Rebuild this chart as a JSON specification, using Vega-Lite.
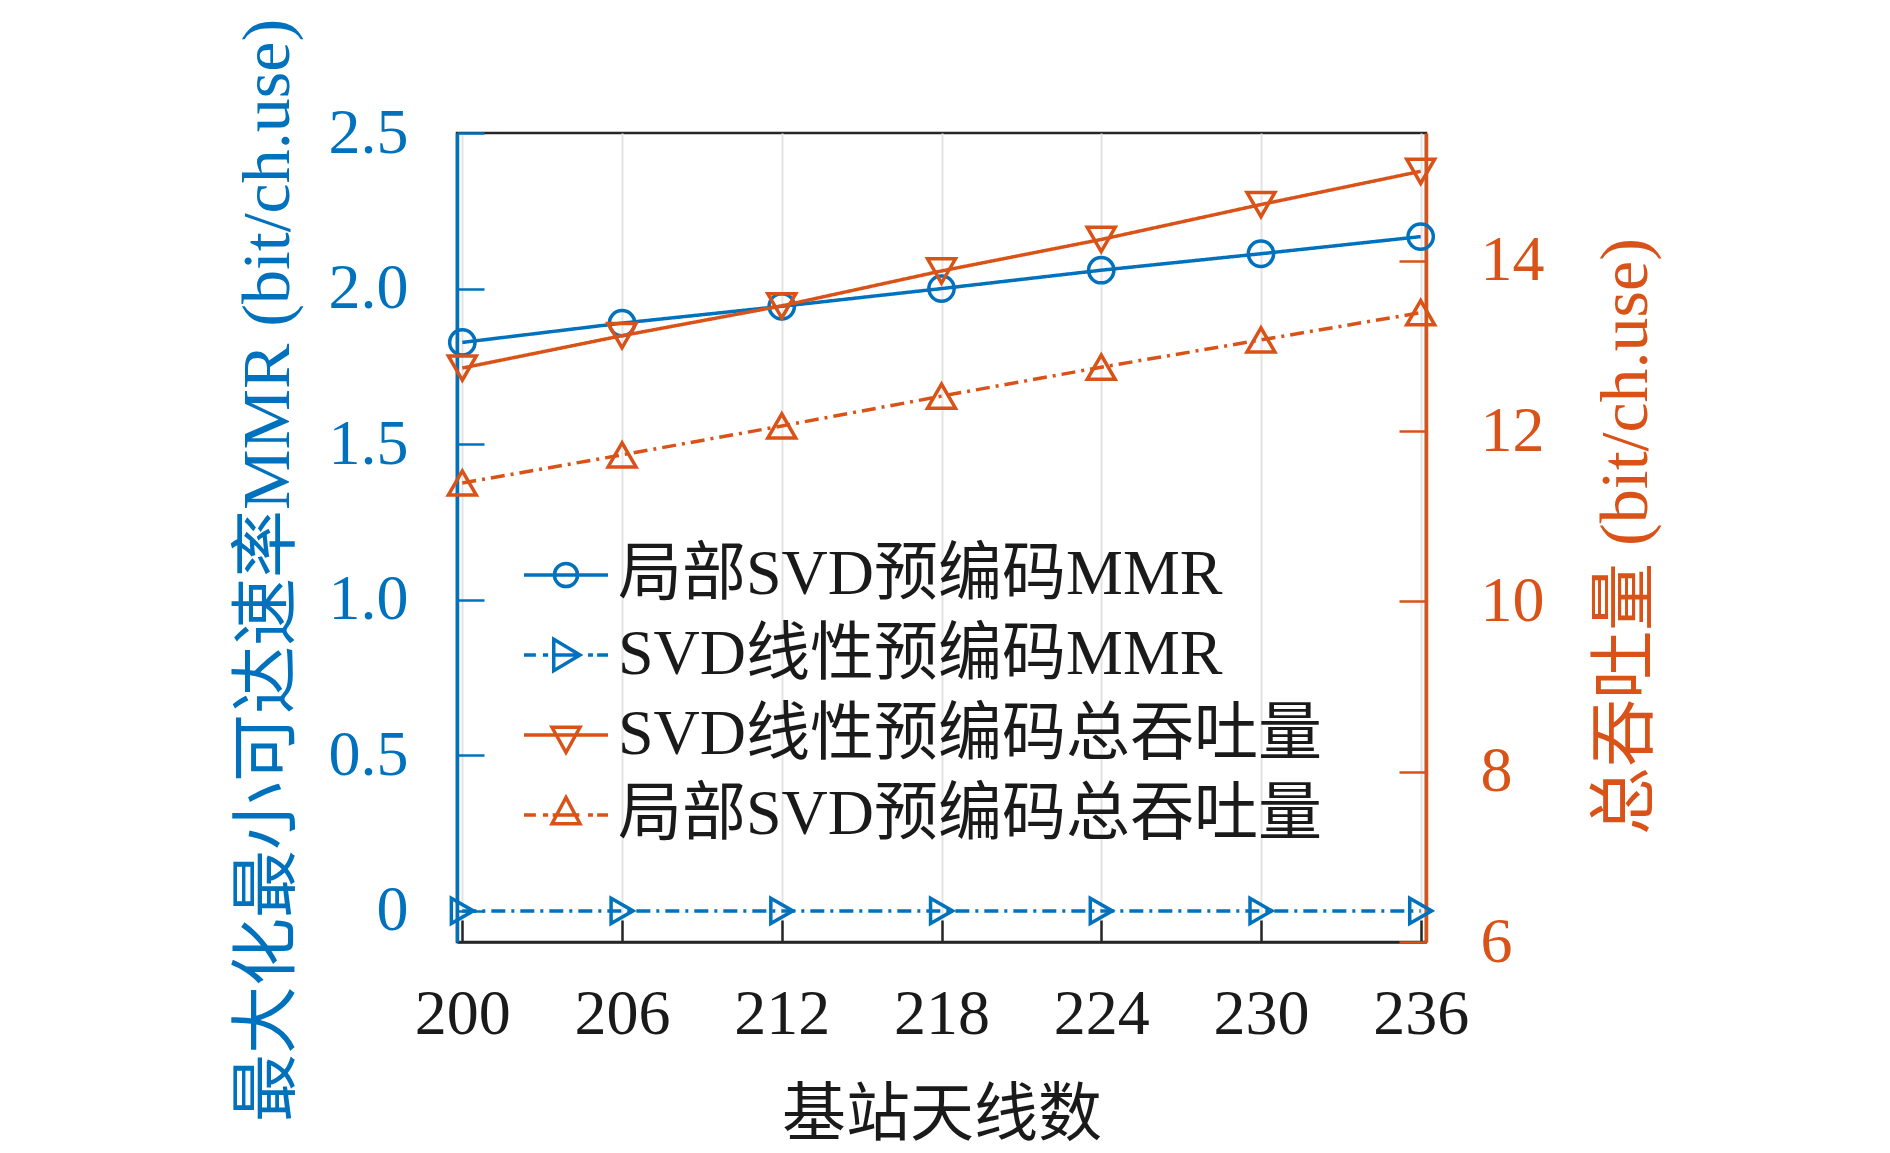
{
  "$schema": "https://vega.github.io/schema/vega-lite/v6.json",
  "autosize": {"type": "none"},
  "padding": {"left": 457, "top": 133, "right": 464, "bottom": 211},
  "width": 969,
  "height": 809,
  "background": "#ffffff",
  "data": {
    "values": [
      {"antennas": 200, "series": "局部SVD预编码MMR", "side": "L", "value": 1.827},
      {"antennas": 206, "series": "局部SVD预编码MMR", "side": "L", "value": 1.889},
      {"antennas": 212, "series": "局部SVD预编码MMR", "side": "L", "value": 1.943},
      {"antennas": 218, "series": "局部SVD预编码MMR", "side": "L", "value": 2.0},
      {"antennas": 224, "series": "局部SVD预编码MMR", "side": "L", "value": 2.059},
      {"antennas": 230, "series": "局部SVD预编码MMR", "side": "L", "value": 2.112},
      {"antennas": 236, "series": "局部SVD预编码MMR", "side": "L", "value": 2.167},
      {"antennas": 200, "series": "SVD线性预编码MMR", "side": "L", "value": 0},
      {"antennas": 206, "series": "SVD线性预编码MMR", "side": "L", "value": 0},
      {"antennas": 212, "series": "SVD线性预编码MMR", "side": "L", "value": 0},
      {"antennas": 218, "series": "SVD线性预编码MMR", "side": "L", "value": 0},
      {"antennas": 224, "series": "SVD线性预编码MMR", "side": "L", "value": 0},
      {"antennas": 230, "series": "SVD线性预编码MMR", "side": "L", "value": 0},
      {"antennas": 236, "series": "SVD线性预编码MMR", "side": "L", "value": 0},
      {"antennas": 200, "series": "SVD线性预编码总吞吐量", "side": "R", "value": 12.74},
      {"antennas": 206, "series": "SVD线性预编码总吞吐量", "side": "R", "value": 13.12},
      {"antennas": 212, "series": "SVD线性预编码总吞吐量", "side": "R", "value": 13.47},
      {"antennas": 218, "series": "SVD线性预编码总吞吐量", "side": "R", "value": 13.88},
      {"antennas": 224, "series": "SVD线性预编码总吞吐量", "side": "R", "value": 14.25},
      {"antennas": 230, "series": "SVD线性预编码总吞吐量", "side": "R", "value": 14.66},
      {"antennas": 236, "series": "SVD线性预编码总吞吐量", "side": "R", "value": 15.05},
      {"antennas": 200, "series": "局部SVD预编码总吞吐量", "side": "R", "value": 11.39},
      {"antennas": 206, "series": "局部SVD预编码总吞吐量", "side": "R", "value": 11.72},
      {"antennas": 212, "series": "局部SVD预编码总吞吐量", "side": "R", "value": 12.06},
      {"antennas": 218, "series": "局部SVD预编码总吞吐量", "side": "R", "value": 12.41},
      {"antennas": 224, "series": "局部SVD预编码总吞吐量", "side": "R", "value": 12.75},
      {"antennas": 230, "series": "局部SVD预编码总吞吐量", "side": "R", "value": 13.07},
      {"antennas": 236, "series": "局部SVD预编码总吞吐量", "side": "R", "value": 13.39}
    ]
  },
  "transform": [
    {"calculate": "'m' + indexof(['局部SVD预编码MMR', 'SVD线性预编码MMR', 'SVD线性预编码总吞吐量', '局部SVD预编码总吞吐量'], datum.series)", "as": "style"}
  ],
  "encoding": {
    "x": {
      "field": "antennas",
      "type": "quantitative",
      "scale": {"domain": [199.8, 236.2], "nice": false, "zero": false},
      "axis": {
        "title": "基站天线数",
        "values": [200, 206, 212, 218, 224, 230, 236],
        "grid": true,
        "gridColor": "#e3e3e3",
        "gridWidth": 2,
        "domainColor": "#262626",
        "domainWidth": 2.5,
        "tickColor": "#262626",
        "tickWidth": 2.5,
        "tickSize": -22,
        "labelFont": "Liberation Serif",
        "labelFontSize": 64,
        "labelColor": "#1a1a1a",
        "labelPadding": 62,
        "labelFlush": false,
        "titleFont": "Noto Sans CJK SC",
        "titleFontSize": 64,
        "titleFontWeight": "normal",
        "titleColor": "#1a1a1a",
        "titleBaseline": "middle",
        "titleY": 173
      }
    },
    "color": {
      "field": "series",
      "type": "nominal",
      "scale": {
        "domain": ["局部SVD预编码MMR", "SVD线性预编码MMR", "SVD线性预编码总吞吐量", "局部SVD预编码总吞吐量"],
        "range": ["#0072BD", "#0072BD", "#D95319", "#D95319"]
      },
      "legend": {
        "title": null,
        "orient": "none",
        "legendX": 72,
        "legendY": 405,
        "padding": 0,
        "symbolSize": 4900,
        "symbolStrokeWidth": 3.5,
        "labelFont": "Liberation Serif, Noto Sans CJK SC",
        "labelFontSize": 64,
        "labelColor": "#1a1a1a",
        "labelOffset": 15,
        "labelLimit": 1200,
        "rowPadding": 11,
        "encode": {
          "symbols": {
            "update": {
              "shape": {"signal": "['M-1.2,0H1.2M0.33,0A0.33,0.33 0 1 1 -0.33,0A0.33,0.33 0 1 1 0.33,0Z', 'M-1.2,0H-0.86M-0.66,0H-0.51M-0.35,0H0.4M0.63,0H0.77M0.89,0H1.2M-0.35,-0.45L0.4,0L-0.35,0.45Z', 'M-1.2,0H1.2M-0.4,-0.22L0.4,-0.22L0,0.5Z', 'M-1.2,0H-0.86M-0.66,0H-0.51M-0.38,0H0.38M0.63,0H0.77M0.89,0H1.2M-0.4,0.25L0.4,0.25L0,-0.5Z'][indexof(['局部SVD预编码MMR', 'SVD线性预编码MMR', 'SVD线性预编码总吞吐量', '局部SVD预编码总吞吐量'], datum.value)]"},
              "fill": {"value": "transparent"},
              "strokeWidth": {"value": 3.5},
              "strokeDash": {"value": []},
              "opacity": {"value": 1}
            }
          }
        }
      }
    }
  },
  "layer": [
    {
      "transform": [{"filter": "datum.side === 'L'"}],
      "encoding": {
        "y": {
          "field": "value",
          "type": "quantitative",
          "scale": {"domain": [-0.1, 2.5], "nice": false, "zero": false},
          "axis": {
            "orient": "left",
            "title": "最大化最小可达速率MMR (bit/ch.use)",
            "values": [0, 0.5, 1, 1.5, 2, 2.5],
            "labelExpr": "datum.value === 0 ? '0' : format(datum.value, '.1f')",
            "grid": false,
            "domainColor": "#0072BD",
            "domainWidth": 3.5,
            "tickColor": "#0072BD",
            "tickWidth": 2.5,
            "tickSize": -27,
            "labelFont": "Liberation Serif",
            "labelFontSize": 64,
            "labelColor": "#0072BD",
            "labelPadding": 76,
            "labelFlush": false,
            "titleFont": "Liberation Serif, Noto Sans CJK SC",
            "titleFontSize": 68,
            "titleFontWeight": "normal",
            "titleColor": "#0072BD",
            "titleAngle": 270,
            "titleBaseline": "middle",
            "titleX": -189,
            "titleY": 437
          }
        }
      },
      "layer": [
        {
          "mark": {"type": "line", "strokeWidth": 3.5},
          "encoding": {
            "strokeDash": {
              "field": "style",
              "type": "nominal",
              "scale": {
                "domain": ["m0", "m1", "m2", "m3"],
                "range": [[1, 0], [14, 6, 3, 6], [1, 0], [14, 6, 3, 6]]
              },
              "legend": null
            }
          }
        },
        {
          "mark": {"type": "point", "filled": false, "strokeWidth": 3.5, "opacity": 1},
          "encoding": {
            "shape": {
              "field": "style",
              "type": "nominal",
              "scale": {
                "domain": ["m0", "m1", "m2", "m3"],
                "range": ["circle", "triangle-right", "triangle-down", "triangle-up"]
              },
              "legend": null
            },
            "size": {"value": 640}
          }
        }
      ]
    },
    {
      "transform": [{"filter": "datum.side === 'R'"}],
      "encoding": {
        "y": {
          "field": "value",
          "type": "quantitative",
          "scale": {"domain": [6, 15.5], "nice": false, "zero": false},
          "axis": {
            "orient": "right",
            "title": "总吞吐量 (bit/ch.use)",
            "values": [6, 8, 10, 12, 14],
            "grid": false,
            "domainColor": "#D95319",
            "domainWidth": 3.5,
            "tickColor": "#D95319",
            "tickWidth": 2.5,
            "tickSize": -27,
            "labelFont": "Liberation Serif",
            "labelFontSize": 64,
            "labelColor": "#D95319",
            "labelPadding": 81,
            "labelFlush": false,
            "titleFont": "Liberation Serif, Noto Sans CJK SC",
            "titleFontSize": 68,
            "titleFontWeight": "normal",
            "titleColor": "#D95319",
            "titleAngle": 270,
            "titleBaseline": "middle",
            "titleX": 200,
            "titleY": 403
          }
        }
      },
      "layer": [
        {
          "mark": {"type": "line", "strokeWidth": 3.5},
          "encoding": {
            "strokeDash": {
              "field": "style",
              "type": "nominal",
              "scale": {
                "domain": ["m0", "m1", "m2", "m3"],
                "range": [[1, 0], [14, 6, 3, 6], [1, 0], [14, 6, 3, 6]]
              },
              "legend": null
            }
          }
        },
        {
          "mark": {"type": "point", "filled": false, "strokeWidth": 3.5, "opacity": 1},
          "encoding": {
            "shape": {
              "field": "style",
              "type": "nominal",
              "scale": {
                "domain": ["m0", "m1", "m2", "m3"],
                "range": ["circle", "triangle-right", "triangle-down", "triangle-up"]
              },
              "legend": null
            },
            "size": {"value": 780}
          }
        }
      ]
    }
  ],
  "resolve": {"scale": {"y": "independent"}},
  "config": {
    "view": {"stroke": "#262626", "strokeWidth": 2.5},
    "axis": {"labelFontWeight": "normal"}
  }
}
